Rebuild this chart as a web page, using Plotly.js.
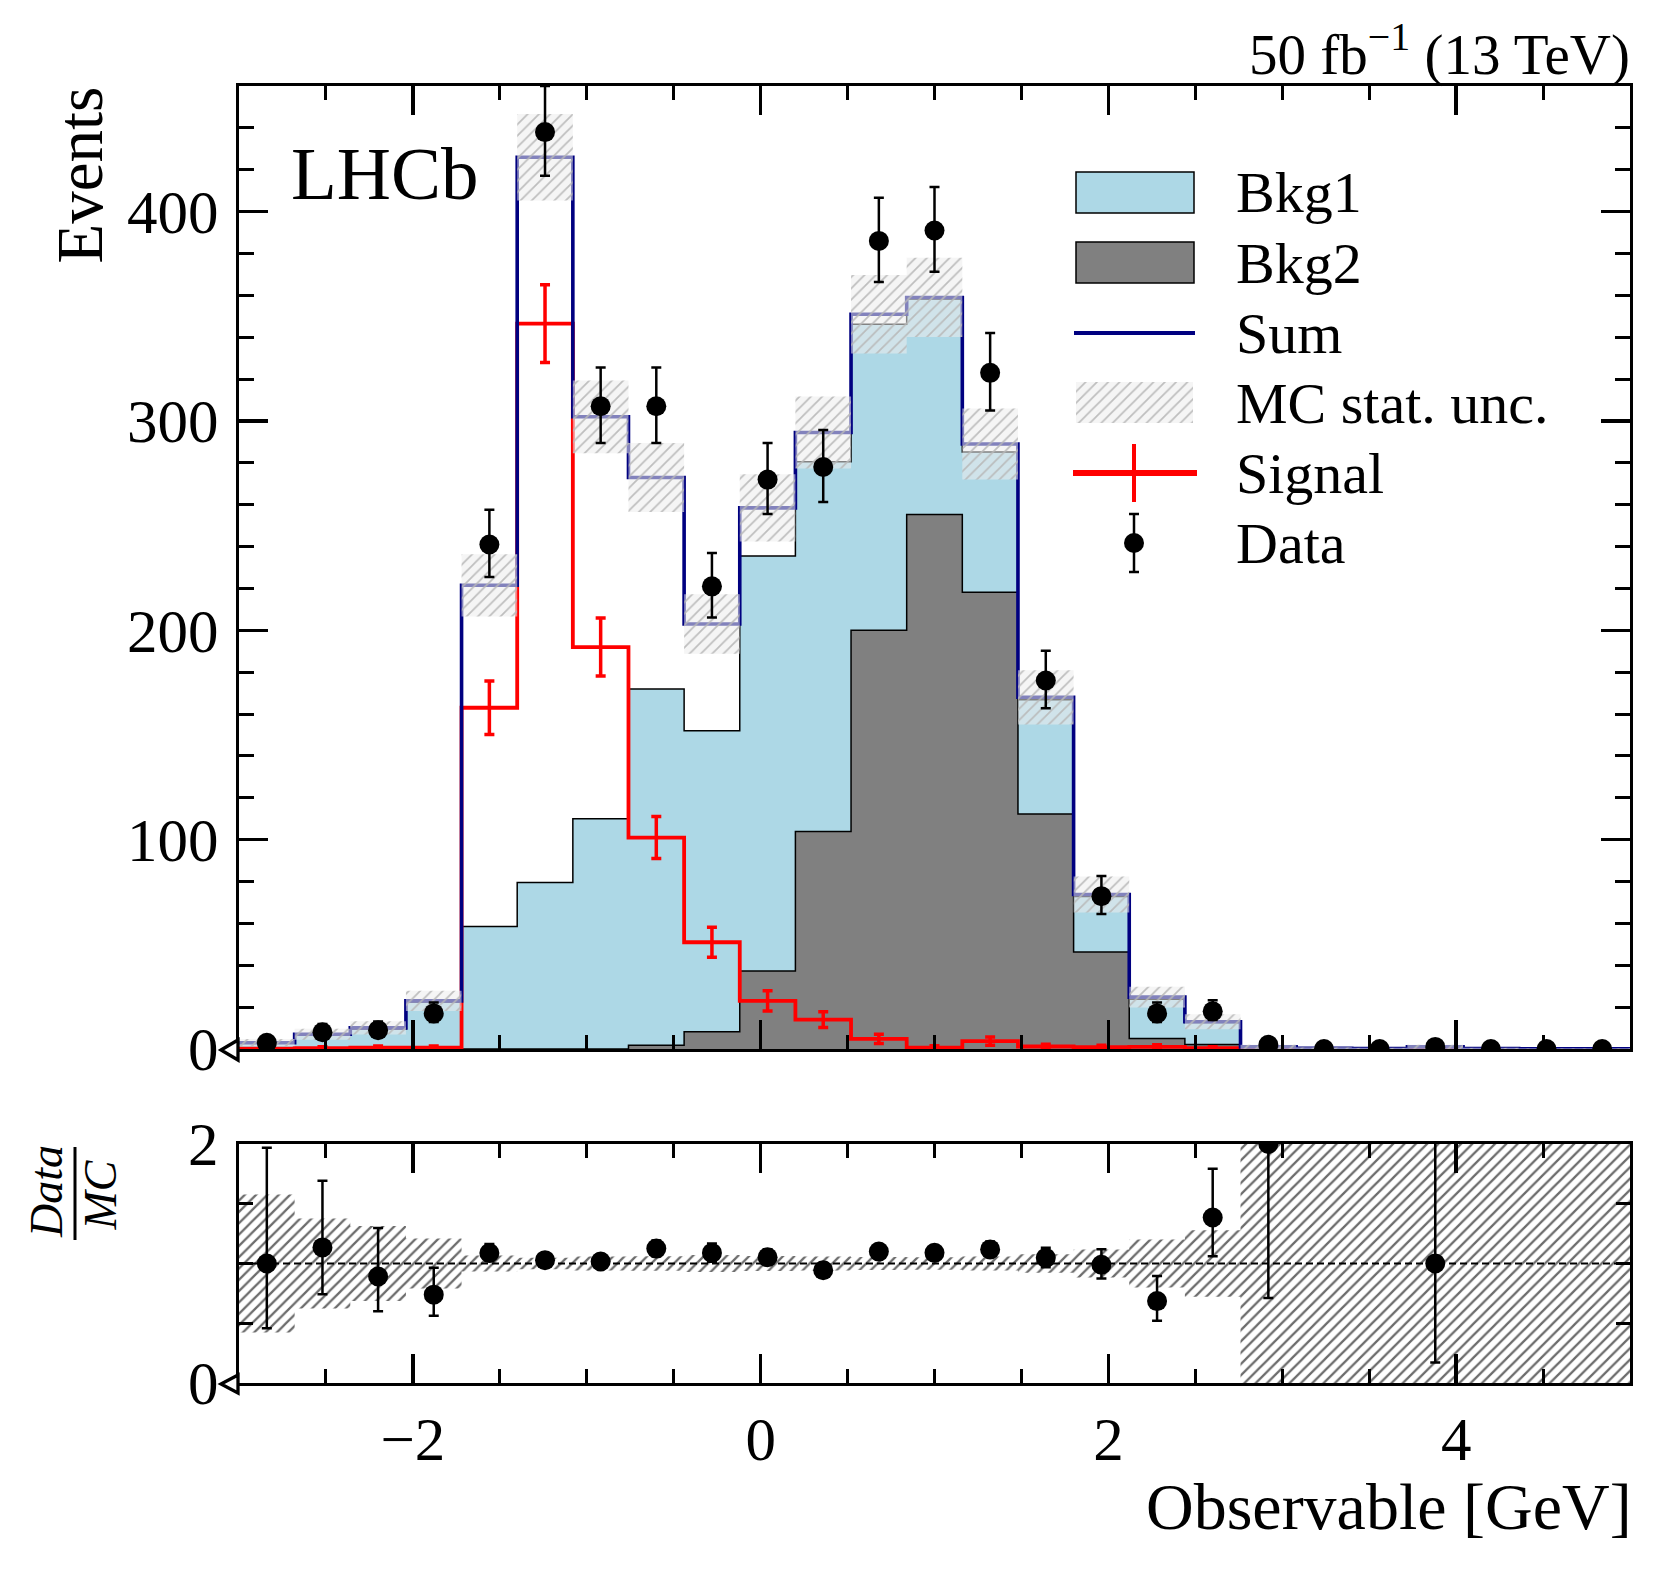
<!DOCTYPE html>
<html><head><meta charset="utf-8">
<script src="https://cdn.plot.ly/plotly-3.0.1.min.js"></script>
<style>html,body{margin:0;padding:0;background:#fff}#plot{width:1663px;height:1573px}</style>
</head><body><div id="plot"></div>
<script>
// ---- data ----
const binEdges = [-3.00,-2.68,-2.36,-2.04,-1.72,-1.40,-1.08,-0.76,-0.44,-0.12,0.20,0.52,0.84,1.16,1.48,1.80,2.12,2.44,2.76,3.08,3.40,3.72,4.04,4.36,4.68,5.00];
const bkg1   = [2.8, 6.65, 9.5, 22.4, 58.5, 79.5, 110, 170.2, 143.8, 198.3, 176.6, 146.2, 103.0, 67.0, 54.6, 26.6, 18.8, 10.5, 1.0, 0.3, 0.2, 1.0, 0.2, 0.1, 0.1];
const bkg2   = [0, 0, 0, 0, 0, 0, 0, 1.8, 8.2, 37.2, 103.9, 200.0, 255.3, 218.2, 112.2, 46.3, 5.0, 2.1, 0, 0, 0, 0, 0, 0, 0];
const signal = [0.2, 0.4, 0.6, 0.6, 163, 346.5, 192, 101, 51, 23, 14, 4.8, 0.7, 3.8, 1.2, 0.9, 1.0, 0.4, 0, 0, 0, 0, 0, 0, 0];
const dataCounts = [3, 8, 9, 17, 241, 438, 307, 307, 221, 272, 278, 386, 391, 323, 176, 73, 17, 18, 2, 0, 0, 1, 0, 0, 0];
const legendLabels = ['Bkg1', 'Bkg2', 'Sum', 'MC stat. unc.', 'Signal', 'Data'];

// ---- derived ----
const nb = bkg1.length;
const centers = [];
for (let i = 0; i < nb; i++) centers.push((binEdges[i] + binEdges[i+1]) / 2);
const stackTop = bkg1.map((v, i) => v + bkg2[i]);
const sum = stackTop.map((v, i) => v + signal[i]);
const mcUnc = sum.map(v => Math.sqrt(v));
const step = a => a.concat([a[a.length - 1]]);
function garLo(n) { if (n <= 0) return 0; return n * Math.pow(1 - 1/(9*n) - 1/(3*Math.sqrt(n)), 3); }
function garHi(n) { const m = n + 1; return m * Math.pow(1 - 1/(9*m) + 1/(3*Math.sqrt(m)), 3); }
const dUp = dataCounts.map(n => garHi(n) - n);
const dDn = dataCounts.map(n => n - garLo(n));
const ratio = dataCounts.map((n, i) => n > 0 ? n / sum[i] : null);
const rUp = dataCounts.map((n, i) => n > 0 ? dUp[i] / sum[i] : 0);
const rDn = dataCounts.map((n, i) => n > 0 ? dDn[i] / sum[i] : 0);

// per-bin rectangles (closed polygons separated by gaps) for the hatched bands
function bandPolys(lo, hi) {
  const xs = [], ys = [];
  for (let i = 0; i < nb; i++) {
    const a = binEdges[i], b = binEdges[i+1];
    xs.push(a, b, b, a, a, null);
    ys.push(lo[i], lo[i], hi[i], hi[i], lo[i], null);
  }
  return {x: xs, y: ys};
}
const mainBand = bandPolys(sum.map((s, i) => s - mcUnc[i]), sum.map((s, i) => s + mcUnc[i]));
const ratioBand = bandPolys(sum.map((s, i) => Math.max(-1, 1 - mcUnc[i] / s)), sum.map((s, i) => Math.min(3, 1 + mcUnc[i] / s)));

// ---- pixel helpers for page-level decorations ----
const L = 239, R = 1630, T = 86, B = 1383;
const PW = R - L, PH = B - T;
const px = p => (p - L) / PW;
const py = p => (B - p) / PH;
const FONT = 'Liberation Serif';

const patMain = {shape: '/', fgcolor: '#b8b8b8', fgopacity: 0.9, bgcolor: 'rgba(236,236,236,0.55)', size: 8, solidity: 0.22, fillmode: 'replace'};
const patRatio = {shape: '/', fgcolor: '#6c6c6c', fgopacity: 1, bgcolor: 'rgba(255,255,255,0)', size: 8, solidity: 0.28, fillmode: 'replace'};

const traces = [
  {x: binEdges, y: step(stackTop), mode: 'lines', line: {shape: 'hv', color: 'black', width: 1.5}, fill: 'tozeroy', fillcolor: '#ADD8E6', xaxis: 'x', yaxis: 'y'},
  {x: binEdges, y: step(bkg2), mode: 'lines', line: {shape: 'hv', color: 'black', width: 1.5}, fill: 'tozeroy', fillcolor: '#808080', xaxis: 'x', yaxis: 'y'},
  {x: binEdges, y: step(signal), mode: 'lines', line: {shape: 'hv', color: '#FF0000', width: 3.8}, xaxis: 'x', yaxis: 'y'},
  {x: centers, y: signal, mode: 'markers', marker: {size: 1, color: 'rgba(0,0,0,0)'},
   error_y: {type: 'data', array: signal.map(Math.sqrt), color: '#FF0000', thickness: 3.5, width: 5}, xaxis: 'x', yaxis: 'y'},
  {x: binEdges, y: step(sum), mode: 'lines', line: {shape: 'hv', color: '#000080', width: 3.6}, xaxis: 'x', yaxis: 'y'},
  {x: mainBand.x, y: mainBand.y, mode: 'lines', line: {width: 0, color: 'rgba(0,0,0,0)'}, fill: 'toself',
   fillcolor: 'rgba(236,236,236,0.55)', fillpattern: patMain, connectgaps: false, xaxis: 'x', yaxis: 'y'},
  {x: centers, y: dataCounts, mode: 'markers', marker: {size: 20, color: 'black'},
   error_y: {type: 'data', symmetric: false, array: dUp, arrayminus: dDn, color: 'black', thickness: 2.5, width: 5}, xaxis: 'x', yaxis: 'y'},
  {x: ratioBand.x, y: ratioBand.y, mode: 'lines', line: {width: 0, color: 'rgba(0,0,0,0)'}, fill: 'toself',
   fillcolor: 'rgba(255,255,255,0)', fillpattern: patRatio, connectgaps: false, xaxis: 'x2', yaxis: 'y2'},
  {x: centers, y: ratio, mode: 'markers', marker: {size: 20, color: 'black'},
   error_y: {type: 'data', symmetric: false, array: rUp, arrayminus: rDn, color: 'black', thickness: 2.5, width: 5}, xaxis: 'x2', yaxis: 'y2'},
  // legend keys (x3/y3 map to page pixels)
  {x: [1076, 1193, 1193, 1076, 1076], y: [382, 382, 423, 423, 382], mode: 'lines', line: {width: 0, color: 'rgba(0,0,0,0)'},
   fill: 'toself', fillcolor: 'rgba(236,236,236,0.55)', fillpattern: patMain, xaxis: 'x3', yaxis: 'y3'},
  {x: [1134], y: [543], mode: 'markers', marker: {size: 20, color: 'black'},
   error_y: {type: 'data', array: [29], color: 'black', thickness: 2.5, width: 5}, xaxis: 'x3', yaxis: 'y3'}
];

const axBase = {showline: true, linecolor: 'black', linewidth: 3.3, mirror: 'allticks', ticks: 'inside',
  tickcolor: 'black', tickwidth: 3.3, ticklen: 29, showgrid: false, zeroline: false,
  tickfont: {family: FONT, size: 61, color: 'black'}, fixedrange: true};

const shapes = [
  {type: 'rect', xref: 'x3', yref: 'y3', x0: 1076, x1: 1194, y0: 172, y1: 213, fillcolor: '#ADD8E6', line: {color: 'black', width: 1.5}},
  {type: 'rect', xref: 'x3', yref: 'y3', x0: 1076, x1: 1194, y0: 242, y1: 283, fillcolor: '#808080', line: {color: 'black', width: 1.5}},
  {type: 'line', xref: 'x3', yref: 'y3', x0: 1074, x1: 1195, y0: 333, y1: 333, line: {color: '#000080', width: 4}},
  {type: 'line', xref: 'x3', yref: 'y3', x0: 1073, x1: 1197, y0: 473, y1: 473, line: {color: '#FF0000', width: 6}},
  {type: 'line', xref: 'x3', yref: 'y3', x0: 1134, x1: 1134, y0: 444, y1: 502, line: {color: '#FF0000', width: 4}},
  {type: 'line', xref: 'x2', yref: 'y2', x0: -3, x1: 5, y0: 1, y1: 1, line: {color: 'black', width: 2, dash: '7px,4px'}},
  {type: 'path', xref: 'paper', yref: 'paper', path: `M ${px(221)},${py(1050)} L ${px(238)},${py(1040)} L ${px(238)},${py(1060)} Z`, fillcolor: 'white', line: {color: 'black', width: 3.3}},
  {type: 'path', xref: 'paper', yref: 'paper', path: `M ${px(221)},${py(1384)} L ${px(238)},${py(1375)} L ${px(238)},${py(1393)} Z`, fillcolor: 'white', line: {color: 'black', width: 3.3}},
  {type: 'line', xref: 'paper', yref: 'paper', x0: px(75), x1: px(75), y0: py(1147), y1: py(1240), line: {color: 'black', width: 3}}
];

const ann = (text, x, y, size, xa, ya, extra) => Object.assign({text: text, xref: 'paper', yref: 'paper', x: px(x), y: py(y),
  xanchor: xa, yanchor: ya, showarrow: false, font: {family: FONT, size: size, color: 'black'}}, extra || {});
const annotations = [
  ann('50 fb<sup>−1</sup> (13 TeV)', 1632, 50, 57, 'right', 'middle'),
  ann('LHCb', 289, 173, 75, 'left', 'middle'),
  ann('Events', 80, 85, 65, 'center', 'top', {textangle: -90}),
  ann('Observable [GeV]', 1634, 1506, 66, 'right', 'middle'),
  ann('<i>Data</i>', 46.5, 1191.5, 46, 'center', 'middle', {textangle: -90}),
  ann('<i>MC</i>', 99.5, 1195, 46, 'center', 'middle', {textangle: -90})
];
const legY = [193, 263, 333, 403, 473, 543];
legendLabels.forEach((t, i) => annotations.push(ann(t, 1234, legY[i], 58, 'left', 'middle')));

const mainBottom = 1 - (1049 - T) / PH;
const ratioTop = 1 - (1144 - T) / PH;

const layout = {
  width: 1663, height: 1573,
  margin: {l: L, r: 1663 - R, t: T, b: 1573 - B, pad: 0},
  paper_bgcolor: 'white', plot_bgcolor: 'rgba(0,0,0,0)',
  font: {family: FONT, color: 'black'},
  showlegend: false, hovermode: false,
  xaxis: Object.assign({}, axBase, {domain: [0, 1], range: [-3, 5], anchor: 'y', dtick: 2, tick0: 0, showticklabels: false,
    minor: {ticks: 'inside', ticklen: 14, tickwidth: 3, tickcolor: 'black', dtick: 0.5, tick0: 0, showgrid: false}}),
  yaxis: Object.assign({}, axBase, {domain: [mainBottom, 1], range: [0, 460], anchor: 'x', dtick: 100, tick0: 0, ticklabelstandoff: 5,
    minor: {ticks: 'inside', ticklen: 15, tickwidth: 3, tickcolor: 'black', dtick: 20, tick0: 0, showgrid: false}}),
  xaxis2: Object.assign({}, axBase, {domain: [0, 1], range: [-3, 5], anchor: 'y2', dtick: 2, tick0: 0, ticklabelstandoff: 0,
    minor: {ticks: 'inside', ticklen: 14, tickwidth: 3, tickcolor: 'black', dtick: 0.5, tick0: 0, showgrid: false}}),
  yaxis2: Object.assign({}, axBase, {domain: [0, ratioTop], range: [0, 2], anchor: 'x2', dtick: 2, tick0: 0, ticklabelstandoff: 5,
    minor: {ticks: 'inside', ticklen: 14, tickwidth: 3, tickcolor: 'black', dtick: 0.5, tick0: 0, showgrid: false}}),
  xaxis3: {domain: [0, 1], range: [L, R], anchor: 'y3', visible: false, fixedrange: true},
  yaxis3: {domain: [0, 1], range: [B, T], anchor: 'x3', visible: false, fixedrange: true},
  shapes: shapes,
  annotations: annotations
};

Plotly.newPlot('plot', traces, layout, {staticPlot: true, displayModeBar: false});
</script>
</body></html>
